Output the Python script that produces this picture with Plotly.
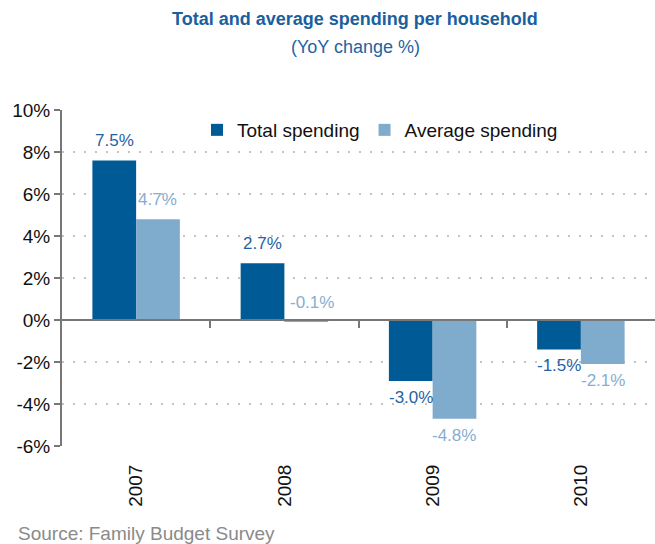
import plotly.graph_objects as go

years = ["2007", "2008", "2009", "2010"]
total = [7.6, 2.7, -2.9, -1.4]
average = [4.8, -0.1, -4.7, -2.1]
total_labels = ["7.5%", "2.7%", "-3.0%", "-1.5%"]
avg_labels = ["4.7%", "-0.1%", "-4.8%", "-2.1%"]
ytick_vals = [-6, -4, -2, 0, 2, 4, 6, 8, 10]
ytick_text = ["-6%", "-4%", "-2%", "0%", "2%", "4%", "6%", "8%", "10%"]

C_TOTAL = "#005a96"
C_AVG = "#7fabcc"
C_TOTAL_TXT = "#1f63a3"
C_AVG_TXT = "#86aed0"
FONT = "Liberation Sans, Arial, sans-serif"

fig = go.Figure()
fig.add_trace(go.Bar(x=[0, 1, 2, 3], y=total, name="Total spending",
                     marker=dict(color=C_TOTAL, line=dict(width=0)), offsetgroup="a"))
fig.add_trace(go.Bar(x=[0, 1, 2, 3], y=average, name="Average spending",
                     marker=dict(color=C_AVG, line=dict(width=0)), offsetgroup="b"))
# invisible trace on the zero-line axis
fig.add_trace(go.Scatter(x=[0, 3], y=[0, 0], xaxis="x2", mode="markers",
                         marker=dict(opacity=0), showlegend=False, hoverinfo="skip"))

annotations = []
bw = 0.295
for i in range(len(years)):
    for vals, labs, col, off in ((total, total_labels, C_TOTAL_TXT, -bw / 2),
                                 (average, avg_labels, C_AVG_TXT, bw / 2)):
        v = vals[i]
        up = v > -0.5
        annotations.append(dict(x=i + off, y=v, xref="x", yref="y", text=labs[i],
                                showarrow=False, yanchor="bottom" if up else "top",
                                yshift=8 if up else -5,
                                xshift=6 if (up and v < 0) else 0,
                                font=dict(size=17, color=col, family=FONT)))

annotations += [
    dict(text="<b>Total and average spending per household</b>", xref="paper", yref="paper",
         x=(355 - 62) / 593, y=(446 - 19) / 336, showarrow=False, yanchor="middle",
         font=dict(size=18, color="#1a5f9e", family=FONT)),
    dict(text="(YoY change %)", xref="paper", yref="paper",
         x=(355 - 62) / 593, y=(446 - 47) / 336, showarrow=False, yanchor="middle",
         font=dict(size=18, color="#1f63a3", family=FONT)),
    dict(text="Source: Family Budget Survey", xref="paper", yref="paper",
         x=(16 - 62) / 593, y=(446 - 533) / 336, showarrow=False, xanchor="left",
         yanchor="middle", font=dict(size=19, color="#8a8a8a", family=FONT)),
]

fig.update_layout(
    width=655, height=544,
    margin=dict(l=62, r=0, t=110, b=98),
    plot_bgcolor="white", paper_bgcolor="white",
    barmode="group", bargap=0.41, bargroupgap=0,
    font=dict(family=FONT, size=18, color="#111111"),
    showlegend=True,
    legend=dict(orientation="h", x=(197 - 62) / 593, y=(446 - 130) / 336,
                xanchor="left", yanchor="middle", bgcolor="rgba(0,0,0,0)",
                font=dict(size=19, color="#111111", family=FONT),
                itemwidth=30, traceorder="normal"),
    xaxis=dict(range=[-0.5, 3.5], tickvals=[0, 1, 2, 3], ticktext=years,
               tickangle=-90, showgrid=False, zeroline=False, showline=False,
               ticks="outside", ticklen=10, tickcolor="rgba(0,0,0,0)",
               tickfont=dict(size=19, color="#111111", family=FONT)),
    xaxis2=dict(range=[-0.5, 3.5], overlaying="x", anchor="free",
                position=6 / 16, side="bottom", tickvals=[0.5, 1.5, 2.5],
                ticks="outside", ticklen=7, tickcolor="#777777", tickwidth=2,
                showticklabels=False, showline=True, linecolor="#777777",
                linewidth=2, showgrid=False, zeroline=False),
    yaxis=dict(range=[-6, 10], tickvals=ytick_vals, ticktext=ytick_text,
               showgrid=True, gridcolor="#c4c4c4", griddash="2px,9px", gridwidth=2,
               zeroline=False, showline=True, linecolor="#777777", linewidth=2,
               ticks="outside", ticklen=6, tickcolor="#777777", tickwidth=2,
               tickfont=dict(size=19, color="#111111", family=FONT)),
    annotations=annotations,
)

fig.write_html("out.html")
